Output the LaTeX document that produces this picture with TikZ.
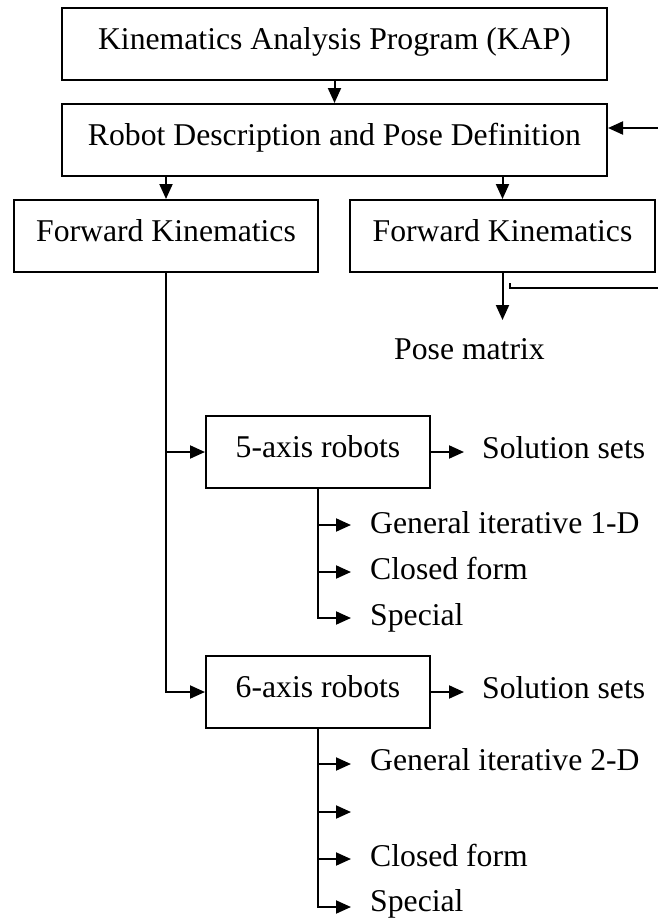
\documentclass[tikz,border=0pt]{standalone}
\usepackage{fontspec}
\setmainfont{Liberation Serif}
\usetikzlibrary{arrows.meta}
\newcommand\kapfont{\fontsize{31.7}{38}\selectfont}
\tikzset{
  boxnode/.style={draw, line width=2pt, inner sep=0pt, minimum height=72pt,
    text height=22pt, text depth=11pt, font=\kapfont},
  plain/.style={inner sep=0pt, anchor=base west, font=\kapfont},
  conn/.style={line width=2pt},
  arr/.style={line width=2pt, -{Triangle[length=15pt,width=13pt]}},
}
\begin{document}
\begin{tikzpicture}[x=1pt,y=-1pt]
\useasboundingbox[fill=white] (0,0) rectangle (658,918);

% boxes
\node[boxnode, minimum width=545pt] (kap) at (334.5,44) {Kinematics Analysis Program (KAP)};
\node[boxnode, minimum width=545pt] (robot) at (334.5,140) {Robot Description and Pose Definition};
\node[boxnode, minimum width=304pt] (fk1) at (166,236) {Forward Kinematics};
\node[boxnode, minimum width=305pt] (fk2) at (502.5,236) {Forward Kinematics};
\node[boxnode, minimum width=224pt] (five) at (318,452) {5-axis robots};
\node[boxnode, minimum width=224pt] (six) at (318,692) {6-axis robots};

% plain texts
\node[plain] (pose) at (394,359) {Pose matrix};
\node[plain] (sol5) at (482,458) {Solution sets};
\node[plain] (sol6) at (482,698) {Solution sets};
\node[plain] (gi1) at (370,533) {General iterative 1-D};
\node[plain] (cf1) at (370,579) {Closed form};
\node[plain] (sp1) at (370,625) {Special};
\node[plain] (gi2) at (370,770) {General iterative 2-D};
\node[plain] (cf2) at (370,866) {Closed form};
\node[plain] (sp2) at (370,911) {Special};

% coordinates for free ends
\coordinate (fbin) at (658,128);
\coordinate (fbtick) at (510,283);
\coordinate (fbout) at (658,288);
\coordinate (posetop) at (502.5,320);
\coordinate (s5) at (464,452);
\coordinate (s6) at (464,692);
\coordinate (a51) at (351,525);
\coordinate (a52) at (351,572);
\coordinate (a53) at (351,618);
\coordinate (a61) at (351,764);
\coordinate (a62) at (351,812);
\coordinate (a63) at (351,859);
\coordinate (a64) at (351,907);

% connectors
\draw[arr] (kap.south) -- (robot.north);
\draw[arr] (robot.south -| fk1.north) -- (fk1.north);
\draw[arr] (robot.south -| fk2.north) -- (fk2.north);
\draw[arr] (fbin) -- (robot.east |- fbin);
\draw[arr] (fk2.south) -- (posetop);
\draw[conn] (fbtick) -- (fbtick |- fbout) -- (fbout);

\draw[arr] (fk1.south) |- (six.west);
\draw[arr] (fk1.south |- five.west) -- (five.west);

\draw[arr] (five.east) -- (s5);
\draw[arr] (six.east) -- (s6);

\draw[arr] (five.south) |- (a53);
\draw[arr] (five.south |- a51) -- (a51);
\draw[arr] (five.south |- a52) -- (a52);

\draw[arr] (six.south) |- (a64);
\draw[arr] (six.south |- a61) -- (a61);
\draw[arr] (six.south |- a62) -- (a62);
\draw[arr] (six.south |- a63) -- (a63);
\end{tikzpicture}
\end{document}
